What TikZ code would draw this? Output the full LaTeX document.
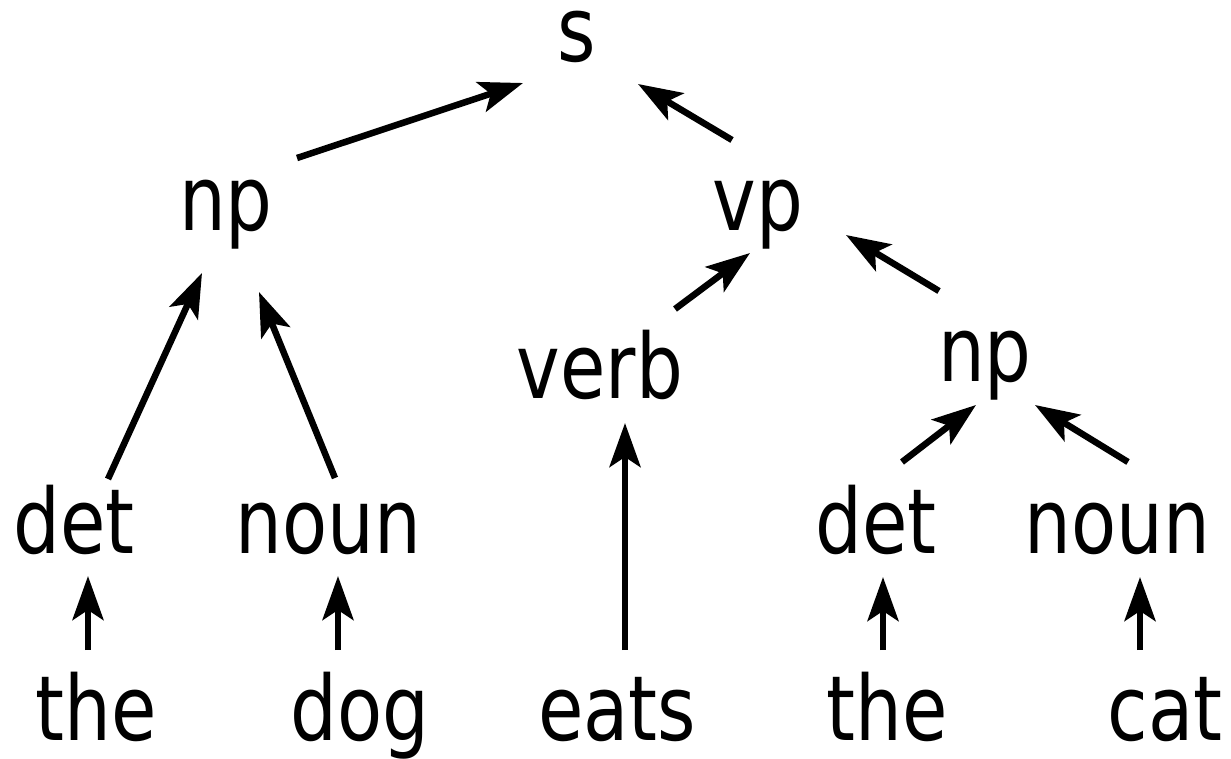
\documentclass[tikz,border=0pt]{standalone}
\usepackage{fontspec}
\setmainfont{DejaVu Sans}[FakeStretch=0.82]
\usetikzlibrary{arrows.meta,calc}
\begin{document}
\begin{tikzpicture}[x=1pt,y=-1pt,
  word/.style={anchor=base,inner sep=0pt,font=\fontsize{90}{100}\selectfont},
  arr/.style={line width=6.5pt,-{Stealth[length=44pt,width=31pt,inset=10pt]}}]
\useasboundingbox (0,0) rectangle (1231,758);
\node[word,text height=46pt] (s) at (577,61) {s};
\node[word] (np1) at (226,230) {np};
\node[word] (vp) at (758,230) {vp};
\node[word] (verb) at (600,398) {verb};
\node[word] (np2) at (985,381) {np};
\node[word] (det1) at (74,553) {det};
\node[word] (noun1) at (328,553) {noun};
\node[word] (det2) at (876,553) {det};
\node[word] (noun2) at (1117,553) {noun};
\node[word,text depth=0pt] (the1) at (96,740) {the};
\node[word,text depth=16pt] (dog) at (360,740) {dog};
\node[word,text depth=0pt] (eats) at (617,740) {eats};
\node[word,text depth=0pt] (the2) at (887,740) {the};
\node[word,text depth=0pt] (cat) at (1165,740) {cat};
\draw[arr] ($(np1.base)+(71,-72)$) -- ($(s.base)+(-54,22)$);
\draw[arr] ($(vp.base)+(-26,-90)$) -- ($(s.base)+(61,23)$);
\draw[arr] ($(verb.base)+(75,-89)$) -- ($(vp.base)+(-8,23)$);
\draw[arr] ($(np2.base)+(-46,-90)$) -- ($(vp.base)+(88,5)$);
\draw[arr] ($(det1.base)+(34,-74)$) -- ($(np1.base)+(-24,43)$);
\draw[arr] ($(noun1.base)+(7,-75)$) -- ($(np1.base)+(33,62)$);
\draw[arr] ($(eats.base)+(8,-90)$) -- ($(verb.base)+(25,25)$);
\draw[arr] ($(det2.base)+(26,-91)$) -- ($(np2.base)+(-9,24)$);
\draw[arr] ($(noun2.base)+(11,-91)$) -- ($(np2.base)+(50,24)$);
\draw[arr] ($(the1.base)+(-8,-90)$) -- ($(det1.base)+(14,23)$);
\draw[arr] ($(dog.base)+(-22,-90)$) -- ($(noun1.base)+(10,23)$);
\draw[arr] ($(the2.base)+(-4,-90)$) -- ($(det2.base)+(7,24)$);
\draw[arr] ($(cat.base)+(-25,-90)$) -- ($(noun2.base)+(23,24)$);
\end{tikzpicture}
\end{document}
